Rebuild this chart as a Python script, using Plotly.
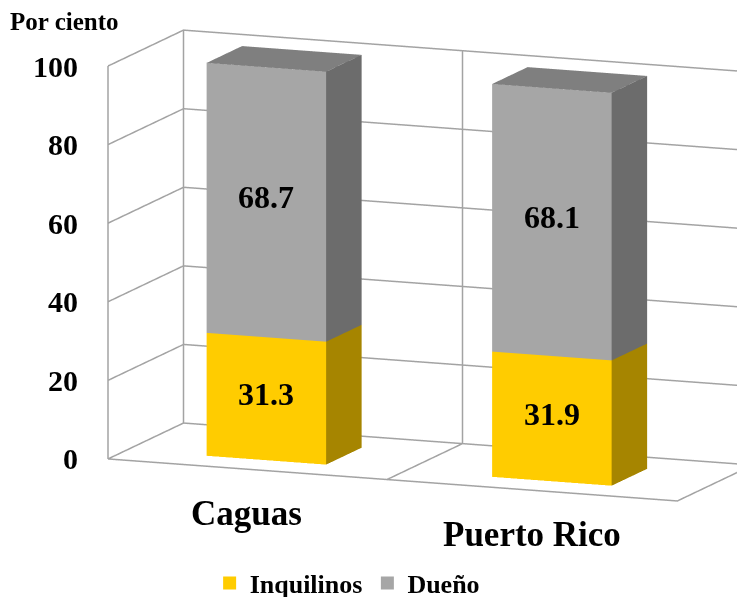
import math
import plotly.graph_objects as go

# Shares of housing tenure by place, in percent
places = ["Caguas", "Puerto Rico"]
inquilinos = [31.3, 31.9]
dueno = [68.7, 68.1]
ticks = [0, 20, 40, 60, 80, 100]

SERIF = "Liberation Serif"
BAR_CENTERS = [0.49, 1.493]
BAR_HALF = 0.21
DEPTH = (0.25, 0.72)
DIVIDER = 0.98
GRID = "#A3A3A3"
FACE = {"front": {"Inquilinos": "#FFCC00", "Dueño": "#A6A6A6"},
        "side": {"Inquilinos": "#A68500", "Dueño": "#6C6C6C"},
        "top": {"Inquilinos": "#CCA300", "Dueño": "#7F7F7F"}}


def quad(points, color):
    """One flat-shaded rectangle of a bar."""
    xs, ys, zs = zip(*points)
    return go.Mesh3d(x=xs, y=ys, z=zs, i=[0, 0], j=[1, 2], k=[2, 3],
                     color=color, flatshading=True, hoverinfo="skip", showlegend=False,
                     lighting=dict(ambient=1, diffuse=0, specular=0, roughness=1, fresnel=0))


def block(center, z0, z1, name, with_top):
    x0, x1 = center - BAR_HALF, center + BAR_HALF
    y0, y1 = DEPTH
    faces = [quad([(x0, y0, z0), (x1, y0, z0), (x1, y0, z1), (x0, y0, z1)], FACE["front"][name]),
             quad([(x1, y0, z0), (x1, y1, z0), (x1, y1, z1), (x1, y0, z1)], FACE["side"][name])]
    if with_top:
        faces.append(quad([(x0, y0, z1), (x1, y0, z1), (x1, y1, z1), (x0, y1, z1)], FACE["top"][name]))
    return faces


def rule(points):
    """A wall or floor line, heavier than the scene's own grid lines can be drawn."""
    xs, ys, zs = zip(*points)
    return go.Scatter3d(x=xs, y=ys, z=zs, mode="lines", line=dict(color=GRID, width=3),
                        hoverinfo="skip", showlegend=False)


fig = go.Figure()

# Walls and floor
for t in ticks:
    fig.add_trace(rule([(0, 0, t), (0, 1, t), (2, 1, t)]))
top = ticks[-1]
fig.add_trace(rule([(0, 0, 0), (0, 0, top)]))
fig.add_trace(rule([(0, 1, 0), (0, 1, top)]))
fig.add_trace(rule([(DIVIDER, 0, 0), (DIVIDER, 1, 0), (DIVIDER, 1, top)]))
fig.add_trace(rule([(0, 0, 0), (2, 0, 0), (2, 1, 0), (2, 1, top)]))

notes = []
for t in ticks:
    notes.append(dict(x=0, y=0, z=t, text=f"<b>{t}</b>", showarrow=False, xanchor="right", xshift=-28,
                      font=dict(family=SERIF, size=30, color="#000000")))

for center, place, low, high in zip(BAR_CENTERS, places, inquilinos, dueno):
    for face in block(center, 0, low, "Inquilinos", False) + block(center, low, low + high, "Dueño", True):
        fig.add_trace(face)
    for z, val in ((low / 2, low), (low + high / 2, high)):
        notes.append(dict(x=center, y=DEPTH[0], z=z, text=f"<b>{val}</b>", showarrow=False, yshift=5,
                          font=dict(family=SERIF, size=32, color="#000000")))
    notes.append(dict(x=center, y=0, z=0, text=f"<b>{place}</b>", showarrow=False, yshift=-44, xshift=-1,
                      font=dict(family=SERIF, size=35, color="#000000")))

# Legend entries
for name, color in (("Inquilinos", "#FFCC00"), ("Dueño", "#A6A6A6")):
    fig.add_trace(go.Scatter3d(x=[None], y=[None], z=[None], mode="markers", name=name,
                               marker=dict(symbol="square", size=13, color=color)))

theta = math.radians(21.5)
phi = math.radians(10.8)
r = 3.0
cx, cz = -0.223, -0.128
axis = dict(visible=False, showbackground=False, showspikes=False, zeroline=False, showline=False,
            showgrid=False, title=dict(text=""), ticks="", showticklabels=False)
fig.update_layout(
    width=737, height=597, margin=dict(l=0, r=0, t=0, b=0, autoexpand=False),
    paper_bgcolor="white", showlegend=True,
    legend=dict(orientation="h", x=0.471, y=-0.016, xanchor="center", yanchor="bottom",
                font=dict(family=SERIF, size=26, color="#000000", weight="bold"),
                bgcolor="rgba(0,0,0,0)"),
    annotations=[dict(x=8 / 737, y=1 - 21 / 597, xref="paper", yref="paper", text="<b>Por ciento</b>",
                      showarrow=False, xanchor="left", yanchor="middle",
                      font=dict(family=SERIF, size=25, color="#000000"))],
    scene=dict(
        domain=dict(x=[0, 1], y=[0, 1]),
        xaxis=dict(axis, range=[0, 2]),
        yaxis=dict(axis, range=[0, 1]),
        zaxis=dict(axis, range=[0, 100]),
        aspectmode="manual", aspectratio=dict(x=2.05, y=0.69, z=1.34),
        camera=dict(
            projection=dict(type="orthographic"),
            up=dict(x=0, y=0, z=1),
            center=dict(x=cx, y=0, z=cz),
            eye=dict(x=cx + r * math.sin(theta) * math.cos(phi),
                     y=-r * math.cos(theta) * math.cos(phi),
                     z=cz + r * math.sin(phi))),
        annotations=notes),
)
fig.write_html("out.html")
